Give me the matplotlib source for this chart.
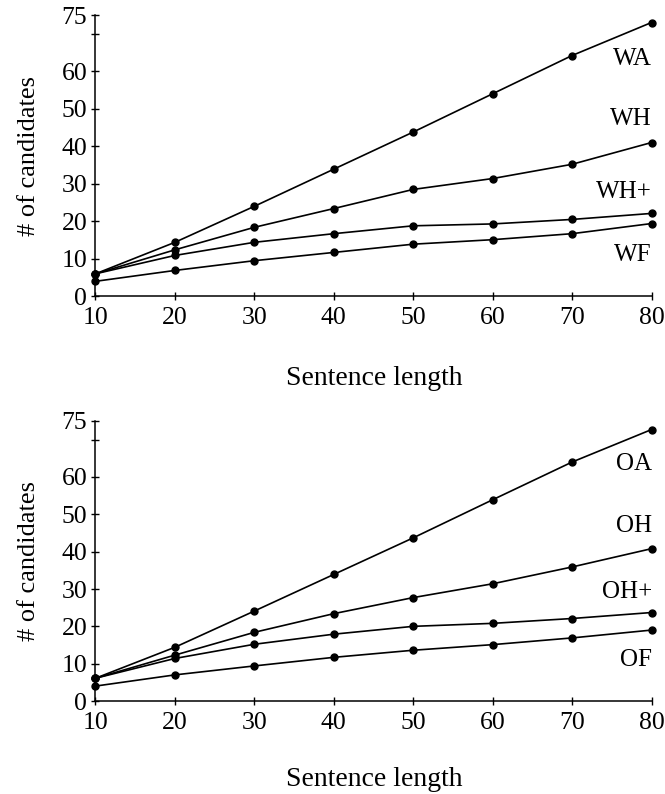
import matplotlib
matplotlib.use("Agg")
import matplotlib.pyplot as plt

plt.rcParams["font.family"] = ["Liberation Serif", "DejaVu Serif"]

lengths = [10, 20, 30, 40, 50, 60, 70, 80]

# Word-level candidate counts
wa = [6.0, 14.4, 24.0, 33.9, 43.8, 54.0, 64.2, 73.0]
wh = [6.0, 12.4, 18.4, 23.4, 28.5, 31.4, 35.2, 41.0]
wh_plus = [6.0, 10.9, 14.4, 16.7, 18.8, 19.3, 20.5, 22.1]
wf = [4.0, 6.9, 9.5, 11.7, 13.9, 15.1, 16.7, 19.4]

# Other-level candidate counts
oa = [6.1, 14.4, 24.1, 33.9, 43.7, 53.9, 64.0, 72.7]
oh = [6.1, 12.3, 18.4, 23.4, 27.7, 31.4, 35.9, 40.8]
oh_plus = [6.1, 11.4, 15.2, 17.9, 20.0, 20.8, 22.1, 23.7]
of = [4.0, 7.0, 9.4, 11.7, 13.6, 15.1, 16.9, 19.0]

top_names = ["WA", "WH", "WH+", "WF"]
top_label_y = [63.4, 47.3, 27.7, 11.1]
bottom_names = ["OA", "OH", "OH+", "OF"]
bottom_label_y = [63.6, 47.0, 29.1, 11.0]

y_ticks = [0, 10, 20, 30, 40, 50, 60, 70, 75]
y_tick_labels = ["0", "10", "20", "30", "40", "50", "60", "", "75"]

fig = plt.figure(figsize=(6.65, 7.94), dpi=100)

panels = [
    ([wa, wh, wh_plus, wf], top_names, top_label_y, [0.1436, 0.6268, 0.8361, 0.3543], 0.508),
    ([oa, oh, oh_plus, of], bottom_names, bottom_label_y, [0.1436, 0.1171, 0.8361, 0.3527], 0.003),
]

for series, names, label_y, rect, xlabel_y in panels:
    ax = fig.add_axes(rect)
    for values in series:
        ax.plot(lengths, values, color="black", lw=1.2, marker="o",
                markersize=5, clip_on=False, zorder=3)
    for name, ly in zip(names, label_y):
        ax.text(80.05, ly, name, ha="right", va="center", fontsize=18)
    ax.set_xlim(10, 80)
    ax.set_ylim(0, 75)
    ax.set_xticks(lengths)
    ax.set_yticks(y_ticks)
    ax.set_yticklabels(y_tick_labels)
    ax.spines["top"].set_visible(False)
    ax.spines["right"].set_visible(False)
    for s in ("left", "bottom"):
        ax.spines[s].set_linewidth(1.1)
    ax.tick_params(axis="both", direction="inout", length=6, width=1.0,
                   labelsize=18.5)
    ax.tick_params(axis="y", pad=3)
    ax.tick_params(axis="x", pad=5)
    ax.set_ylabel("# of candidates", fontsize=19)
    ax.yaxis.set_label_coords(-0.1, 0.5)
    fig.text(0.5635, xlabel_y, "Sentence length", ha="center",
             va="bottom", fontsize=20)

fig.savefig("out.png", dpi=100)
